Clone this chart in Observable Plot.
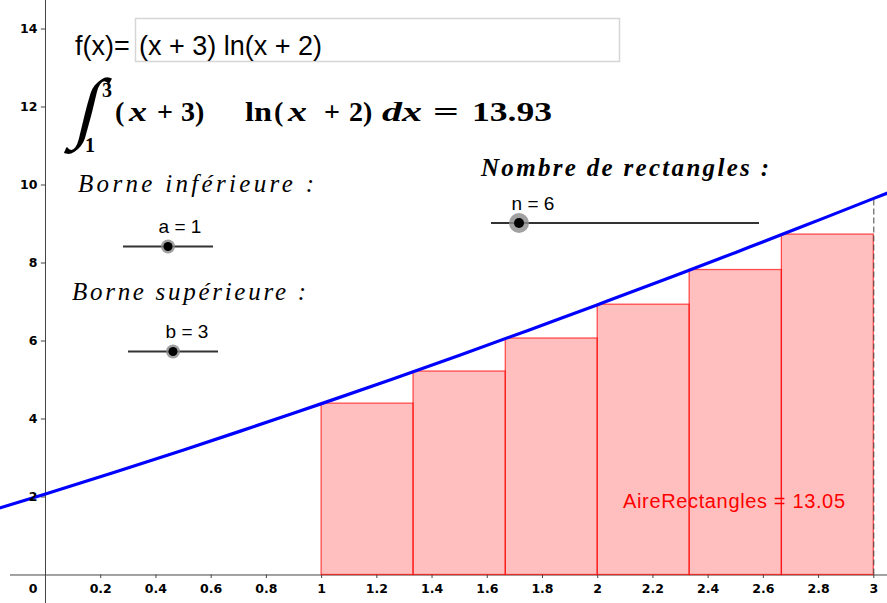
<!DOCTYPE html>
<html>
<head>
<meta charset="utf-8">
<script src="https://cdn.jsdelivr.net/npm/d3@7"></script>
<script src="https://cdn.jsdelivr.net/npm/@observablehq/plot@0.6"></script>
<style>
  body { margin: 0; background: #fff; }
  #chart { width: 887px; height: 603px; }
</style>
</head>
<body>
<div id="chart"></div>
<script>
// f(x) = (x + 3) ln(x + 2), sampled along the visible window
const curveX = [-0.17, 0, 0.25, 0.5, 0.75, 1, 1.25, 1.5, 1.75, 2, 2.25, 2.5, 2.75, 3, 3.05];
const curveY = [1.71, 2.079, 2.636, 3.207, 3.794, 4.394, 5.009, 5.637, 6.278, 6.931, 7.596, 8.272, 8.959, 9.657, 9.797];

// Left Riemann rectangles, n = 6 on [1, 3]
const rectX1 = [1, 1.333, 1.667, 2, 2.333, 2.667];
const rectX2 = [1.333, 1.667, 2, 2.333, 2.667, 3];
const rectH  = [4.394, 5.217, 6.064, 6.931, 7.82, 8.729];

// Axis ticks
const xTicks = [0.2, 0.4, 0.6, 0.8, 1, 1.2, 1.4, 1.6, 1.8, 2, 2.2, 2.4, 2.6, 2.8, 3];
const yTicks = [2, 4, 6, 8, 10, 12, 14];

// Construction values shown in the panel
const fText = "(x + 3) ln(x + 2)";
const boundA = 1;
const boundB = 3;
const nRect = 6;
const integralValue = 13.93;
const rectArea = 13.05;
const fAtB = 9.657;

const curve = curveX.map((x, i) => ({x, y: curveY[i]}));
const rects = rectX1.map((x1, i) => ({x1, x2: rectX2[i], h: rectH[i]}));

const W = 887, H = 603;
const axisColor = "#444";
const sans = "'Liberation Sans', Arial, sans-serif";
const serif = "'Liberation Serif', 'Times New Roman', serif";
const axisFont = "'DejaVu Sans', sans-serif";

const labelStyle = {fill: "#000", fontWeight: "bold", fontSize: 12.5};

const chart = Plot.plot({
  width: W,
  height: H,
  margin: 0,
  x: {domain: [-0.163, 3.0496], axis: null},
  y: {domain: [-0.731, 14.731], axis: null},
  style: {background: "#fff", fontFamily: axisFont, overflow: "visible"},
  marks: [
    // axes through the origin
    Plot.ruleX([0], {stroke: axisColor, strokeWidth: 1}),
    Plot.ruleY([0], {x1: -0.127, x2: 3.0496, stroke: axisColor, strokeWidth: 1}),
    Plot.ruleX(xTicks, {x: d => d, y1: 0, y2: -0.09, stroke: axisColor}),
    Plot.ruleY(yTicks, {y: d => d, x1: -0.015, x2: 0, stroke: axisColor}),
    // rectangles
    Plot.rect(rects, {
      x1: "x1", x2: "x2", y1: 0, y2: "h",
      fill: "red", fillOpacity: 0.25,
      stroke: "red", strokeOpacity: 0.65, strokeWidth: 1.3
    }),
    // upper bound marker x = b
    Plot.ruleX([boundB], {y1: 0, y2: fAtB, stroke: "#444", strokeDasharray: "6,3", strokeWidth: 1}),
    // the function
    Plot.line(curve, {x: "x", y: "y", curve: "natural", stroke: "#0000ff", strokeWidth: 3.2}),
    // tick labels
    Plot.text(xTicks, {x: d => d, y: 0, dy: 14, text: d => String(d), ...labelStyle}),
    Plot.text([0], {x: 0, y: 0, dx: -8, dy: 14, text: () => "0", textAnchor: "end", ...labelStyle}),
    Plot.text(yTicks, {x: 0, y: d => d, dx: -8, text: d => String(d), textAnchor: "end", ...labelStyle})
  ]
});

document.getElementById("chart").appendChild(chart);

const svg = d3.select(chart);
// axis labels: bold sans
svg.selectAll("text")
  .style("font-family", axisFont)
  .style("font-size", "12.5px")
  .style("font-weight", "bold");

// ---- panel: input box, integral, sliders, area label ----
const g = svg.append("g").attr("class", "panel").attr("text-anchor", "start");

// input box
g.append("rect").attr("x", 135.5).attr("y", 18.5).attr("width", 484).attr("height", 43)
  .attr("fill", "#fff").attr("stroke", "#d6d6d6").attr("stroke-width", 1.5);
g.append("text").attr("x", 75).attr("y", 55).attr("font-family", sans).attr("font-size", 27)
  .attr("fill", "#000").text("f(x)=");
g.append("text").attr("x", 139).attr("y", 55).attr("font-family", sans).attr("font-size", 27)
  .attr("fill", "#000").text(fText);

// integral formula
g.append("text").attr("transform", "translate(73,133) skewX(-14)").attr("font-family", serif)
  .attr("font-size", 78).attr("fill", "#000").text("\u222B");
g.append("text").attr("x", 102).attr("y", 97).attr("font-family", serif).attr("font-weight", "bold")
  .attr("font-size", 20).attr("fill", "#000").text(String(boundB));
g.append("text").attr("x", 85).attr("y", 152).attr("font-family", serif).attr("font-weight", "bold")
  .attr("font-size", 20).attr("fill", "#000").text(String(boundA));

const formula = g.append("text").attr("y", 121).attr("font-family", serif)
  .attr("font-weight", "bold").attr("font-size", 28).attr("fill", "#000");
const parts = [
  [115, "(", false, 0], [129, "x", true, 18], [157, "+", false, 0], [181, "3)", false, 0],
  [245, "ln", false, 27], [274, "(", false, 0], [288, "x", true, 19], [324, "+", false, 0], [349, "2)", false, 0],
  [382, "dx", true, 40], [433, "=", false, 26], [472, integralValue.toFixed(2), false, 80]
];
parts.forEach(([x, t, it, len]) => {
  const s = formula.append("tspan").attr("x", x).attr("font-style", it ? "italic" : "normal").text(t);
  if (len) s.attr("textLength", len).attr("lengthAdjust", "spacingAndGlyphs");
});

// slider helper
function slider(x1, x2, y, knobX, halo, dot) {
  g.append("line").attr("x1", x1).attr("x2", x2).attr("y1", y).attr("y2", y)
    .attr("stroke", "#333").attr("stroke-width", 2);
  g.append("circle").attr("cx", knobX).attr("cy", y).attr("r", halo)
    .attr("fill", "#8a8a8a").attr("fill-opacity", 0.8);
  g.append("circle").attr("cx", knobX).attr("cy", y).attr("r", dot).attr("fill", "#000");
}
function heading(x, y, len, t, bold) {
  g.append("text").attr("x", x).attr("y", y).attr("font-family", serif).attr("font-style", "italic")
    .attr("font-weight", bold ? "bold" : "normal").attr("font-size", 25).attr("fill", "#000")
    .attr("textLength", len).attr("lengthAdjust", "spacing").text(t);
}
function valueLabel(cx, y, t) {
  g.append("text").attr("x", cx).attr("y", y).attr("text-anchor", "middle").attr("font-family", sans)
    .attr("font-size", 19).attr("fill", "#000").text(t);
}

heading(78, 192, 236, "Borne inférieure :", false);
valueLabel(180, 233, "a = " + boundA);
slider(123, 213, 246.5, 168, 7, 4.5);

heading(72, 300, 234, "Borne supérieure :", false);
valueLabel(187, 338, "b = " + boundB);
slider(128, 218, 351.5, 173, 7, 4.5);

heading(481, 176, 288, "Nombre de rectangles :", true);
valueLabel(533, 210, "n = " + nRect);
slider(491, 759, 223, 519, 10, 5);

// area of the rectangles
g.append("text").attr("x", 623).attr("y", 508).attr("font-family", sans).attr("font-size", 20)
  .attr("fill", "#ff0000").attr("textLength", 222).attr("lengthAdjust", "spacing")
  .text("AireRectangles = " + rectArea.toFixed(2));
</script>
</body>
</html>
